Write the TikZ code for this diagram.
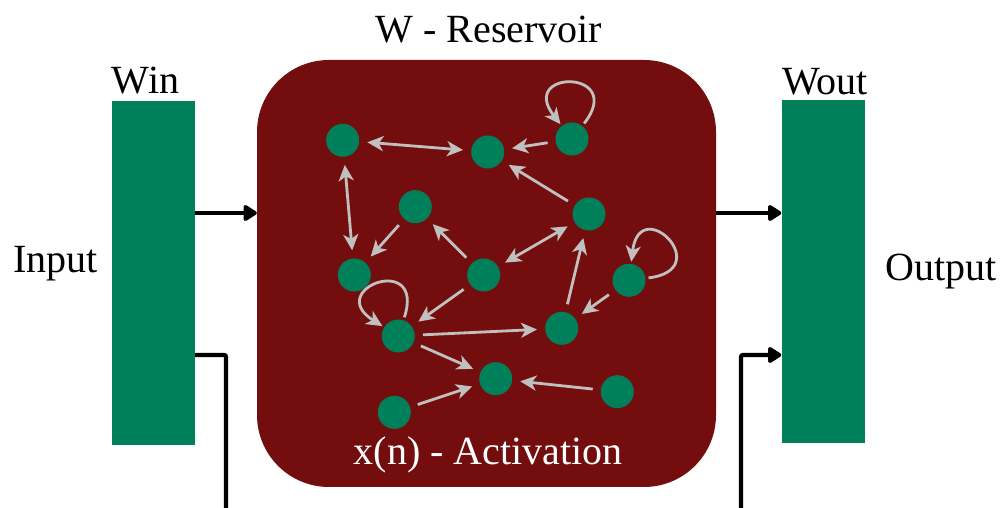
\documentclass[tikz,border=0pt]{standalone}
\usepackage{fontspec}
\setmainfont{Liberation Serif}
\usetikzlibrary{arrows.meta}
\definecolor{rgreen}{RGB}{0,128,90}
\definecolor{rred}{RGB}{116,14,14}
\definecolor{rgray}{RGB}{192,192,192}
\begin{document}
\begin{tikzpicture}[x=1pt,y=1pt,
  lbl/.style={font=\fontsize{40}{48}\selectfont, inner sep=0pt, anchor=base},
  wbox/.style={fill=rgreen, draw=none, inner sep=0pt},
  neuron/.style={circle, fill=rgreen, draw=none, minimum size=33pt, inner sep=0pt},
  garr/.style={draw=rgray, line width=2.8pt, shorten >=8pt, shorten <=8pt,
    -{Stealth[length=16pt,width=15pt,inset=4.5pt]}},
  gdbl/.style={draw=rgray, line width=2.8pt, shorten >=8pt, shorten <=8pt,
    {Stealth[length=16pt,width=15pt,inset=4.5pt]}-{Stealth[length=16pt,width=15pt,inset=4.5pt]}},
  gloop/.style={garr, shorten >=2pt, shorten <=3pt, min distance=72pt},
  blkline/.style={draw=black, line width=4.3pt, rounded corners=2pt},
  blkarr/.style={blkline, -{Triangle[length=15pt,width=18pt,round]}}
]
\useasboundingbox (0,0) rectangle (1001,508);

% weight matrices and reservoir
\node[wbox, minimum width=83pt, minimum height=344pt] (win) at (153.5,235) {};
\node[wbox, minimum width=83.5pt, minimum height=343.5pt] (wout) at (823.25,236.25) {};
\node[fill=rred, draw=none, rounded corners=72pt, minimum width=459pt, minimum height=427pt, inner sep=0pt] (res) at (486.5,234.5) {};

% labels
\node[lbl] (tres) at (489,465) {W - Reservoir};
\node[lbl] (twin) at (145.5,414.7) {Win};
\node[lbl] (tin) at (55.5,235) {Input};
\node[lbl] (twout) at (825,413) {Wout};
\node[lbl] (tout) at (941.5,227.3) {Output};
\node[lbl, text=white] (tact) at (488.3,43) {x(n) - Activation};

% neurons
\node[neuron] (A) at (342.7,367.7) {};
\node[neuron] (B) at (487.7,356) {};
\node[neuron] (C) at (572,369) {};
\node[neuron] (D) at (415.3,301.3) {};
\node[neuron] (E) at (589,294) {};
\node[neuron] (F) at (354.3,233) {};
\node[neuron] (G) at (483.7,233) {};
\node[neuron] (H) at (629,227.7) {};
\node[neuron] (I) at (398.3,172) {};
\node[neuron] (J) at (561.7,179.7) {};
\node[neuron] (K) at (495.7,129.3) {};
\node[neuron] (L) at (394.3,95.7) {};
\node[neuron] (M) at (617.3,116.3) {};

% reservoir connections
\draw[gdbl] (A) -- (B);
\draw[garr] (C) -- (B);
\draw[gloop] (C) to[out=52,in=128] (C);
\draw[gdbl] (A) -- (F);
\draw[garr] (D) -- (F);
\draw[garr] (G) -- (D);
\draw[garr] (E) -- (B);
\draw[gdbl] (G) -- (E);
\draw[garr] (J) -- (E);
\draw[garr] (H) -- (J);
\draw[gloop] (H) to[out=7,in=83] (H);
\draw[garr] (G) -- (I);
\draw[gloop] (I) to[out=72,in=148] (I);
\draw[garr] (I) -- (J);
\draw[garr] (I) -- (K);
\draw[garr] (L) -- (K);
\draw[garr] (M) -- (K);

% black connectors
\coordinate (inb) at (226,0);
\coordinate (outb) at (741,0);
\draw[blkarr] (win.east|-0,295) -- (res.west|-0,295);
\draw[blkarr] (res.east|-0,295) -- (wout.west|-0,295);
\draw[blkline] (win.east|-0,153) -| (inb);
\draw[blkarr] (outb) |- (wout.west|-0,153);
\end{tikzpicture}
\end{document}
